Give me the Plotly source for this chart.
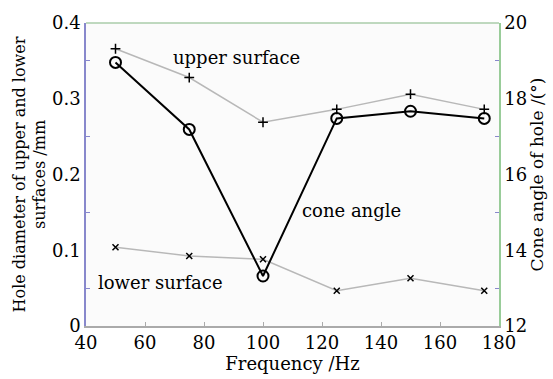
import plotly.graph_objects as go

freq = [50, 75, 100, 125, 150, 175]
upper = [0.366, 0.328, 0.269, 0.286, 0.306, 0.286]
lower = [0.104, 0.0925, 0.088, 0.0465, 0.063, 0.0465]
cone = [18.96, 17.19, 13.32, 17.48, 17.67, 17.48]

FONT = "DejaVu Serif"

fig = go.Figure()
fig.add_trace(go.Scatter(x=freq, y=upper, mode="lines+markers",
                         line=dict(color="#b8b8b8", width=1.5),
                         marker=dict(symbol="cross-thin", size=7, color="black",
                                     line=dict(color="black", width=1.5)),
                         showlegend=False))
fig.add_trace(go.Scatter(x=freq, y=lower, mode="lines+markers",
                         line=dict(color="#b8b8b8", width=1.5),
                         marker=dict(symbol="x-thin", size=6, color="black",
                                     line=dict(color="black", width=1.5)),
                         showlegend=False))
fig.add_trace(go.Scatter(x=freq, y=cone, mode="lines+markers", yaxis="y2",
                         line=dict(color="black", width=2),
                         marker=dict(symbol="circle-open", size=11, color="black",
                                     line=dict(color="black", width=2)),
                         showlegend=False))

fig.add_annotation(x=68.9, y=0.355, text="upper surface", showarrow=False,
                   xanchor="left", font=dict(family=FONT, size=18, color="black"))
fig.add_annotation(x=112.7, y=0.153, text="cone angle", showarrow=False,
                   xanchor="left", font=dict(family=FONT, size=18, color="black"))
fig.add_annotation(x=43.4, y=0.058, text="lower surface", showarrow=False,
                   xanchor="left", font=dict(family=FONT, size=18, color="black"))

fig.update_layout(
    width=553, height=379,
    margin=dict(l=86, r=51, t=13, b=53),
    paper_bgcolor="white", plot_bgcolor="#fbfbfb",
    font=dict(family=FONT, size=16, color="black"),
    xaxis=dict(range=[40, 180], tickvals=[40, 60, 80, 100, 120, 140, 160, 180],
               ticks="inside", ticklen=4, tickcolor="#aaaaaa",
               showline=True, linecolor="#aaaaaa", linewidth=1.5,
               mirror=False, showgrid=False, zeroline=False,
               title=dict(text="Frequency /Hz", standoff=0,
                          font=dict(family=FONT, size=18, color="black")),
               tickfont=dict(family=FONT, size=18, color="black")),
    yaxis=dict(range=[0, 0.4], tickvals=[0, 0.1, 0.2, 0.3, 0.4],
               ticktext=["0", "0.1", "0.2", "0.3", "0.4"],
               ticks="", showline=True, linecolor="#8888cc", linewidth=1.5,
               showgrid=False, zeroline=False,
               minor=dict(tickvals=[0.05, 0.15, 0.25, 0.35], ticks="inside",
                          ticklen=4, tickcolor="#8888cc"),
               title=dict(text="Hole diameter of upper and lower<br>surfaces /mm",
                          standoff=2, font=dict(family=FONT, size=16, color="black")),
               tickfont=dict(family=FONT, size=18, color="black")),
    yaxis2=dict(range=[12, 20], overlaying="y", side="right",
                tickvals=[12, 14, 16, 18, 20], ticks="",
                showline=True, linecolor="#99cc99", linewidth=1.5,
                showgrid=False, zeroline=False,
                minor=dict(tickvals=[13, 15, 17, 19], ticks="inside",
                           ticklen=4, tickcolor="#8888cc"),
                title=dict(text="Cone angle of hole /(°)", standoff=2,
                           font=dict(family=FONT, size=17, color="black")),
                tickfont=dict(family=FONT, size=18, color="black")),
    shapes=[dict(type="line", xref="paper", yref="paper", x0=0, x1=1, y0=1, y1=1,
                 line=dict(color="#aaccaa", width=1.5))],
)

fig.write_html("out.html")
